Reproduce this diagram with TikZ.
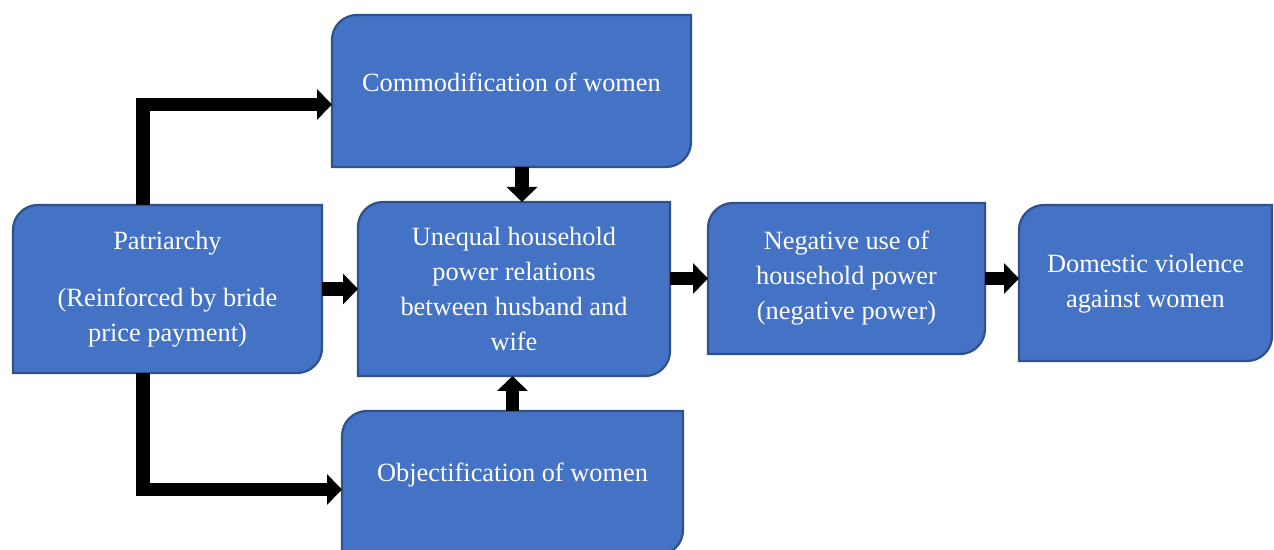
\documentclass[tikz,border=0pt]{standalone}
\usepackage{fontspec}
\setmainfont{Liberation Serif}
\usepackage{tikz}
\usetikzlibrary{positioning, arrows.meta, backgrounds}
\definecolor{boxblue}{HTML}{4472C4}
\definecolor{boxedge}{HTML}{2F528F}
\tikzstyle{flowbox} = [rectangle, outer sep=0pt, text=white, align=center, font=\fontsize{15}{19.9}\selectfont]
\tikzstyle{boxline} = [fill=boxblue, draw=boxedge, line width=0.045cm]
\tikzstyle{arrow} = [line width=0.27cm, -{Triangle[width=0.6cm,length=0.3cm]}]
% box with rounded top-left and bottom-right corners
\newcommand{\diagcorners}[1]{%
  \draw[boxline] ([yshift=-0.5cm]#1.north west) arc[start angle=180,end angle=90,radius=0.5cm]
    -- (#1.north east) -- ([yshift=0.5cm]#1.south east) arc[start angle=0,end angle=-90,radius=0.5cm]
    -- (#1.south west) -- cycle;}

\begin{document}
\begin{tikzpicture}

\useasboundingbox (-3.35,-5.22) rectangle (22.13,5.78);

\node(pat)[flowbox, minimum width=6.18cm, minimum height=3.36cm]{Patriarchy\\[0.45cm](Reinforced by bride\\price payment)};
\node(uneq)[flowbox, minimum width=6.24cm, minimum height=3.48cm, right=0.72cm of pat]{Unequal household\\power relations\\between husband and\\wife};
\node(com)[flowbox, minimum width=7.18cm, minimum height=3.04cm, above=0.7cm of uneq, xshift=-0.05cm]{\raisebox{0.36cm}{Commodification of women}};
\node(obj)[flowbox, minimum width=6.82cm, minimum height=2.88cm, below=0.7cm of uneq, xshift=-0.03cm]{\raisebox{0.42cm}{Objectification of women}};
\node(neg)[flowbox, minimum width=5.54cm, minimum height=3.02cm, right=0.76cm of uneq, yshift=0.21cm]{Negative use of\\household power\\(negative power)};
\node(dom)[flowbox, minimum width=5.06cm, minimum height=3.12cm, right=0.68cm of neg, yshift=-0.09cm]{\raisebox{0.52cm}{\begin{tabular}{@{}c@{}}Domestic violence\\against women\end{tabular}}};

\begin{scope}[on background layer]
\foreach \n in {pat,uneq,com,obj,neg,dom}
  \diagcorners{\n};
\end{scope}

\draw [arrow] ([xshift=-0.49cm]pat.north) |- ([yshift=-0.27cm]com.west);
\draw [arrow] ([xshift=-0.49cm]pat.south) |- ([yshift=-0.13cm]obj.west);
\draw [arrow] (pat.east) -- (uneq.west);
\draw [arrow] ([xshift=0.21cm]com.south) -- ([xshift=0.21cm]com.south |- uneq.north);
\draw [arrow] (obj.north) -- (obj.north |- uneq.south);
\draw [arrow] (uneq.east |- neg.east) -- (neg.west);
\draw [arrow] (neg.east) -- (neg.east -| dom.west);

\end{tikzpicture}
\end{document}
